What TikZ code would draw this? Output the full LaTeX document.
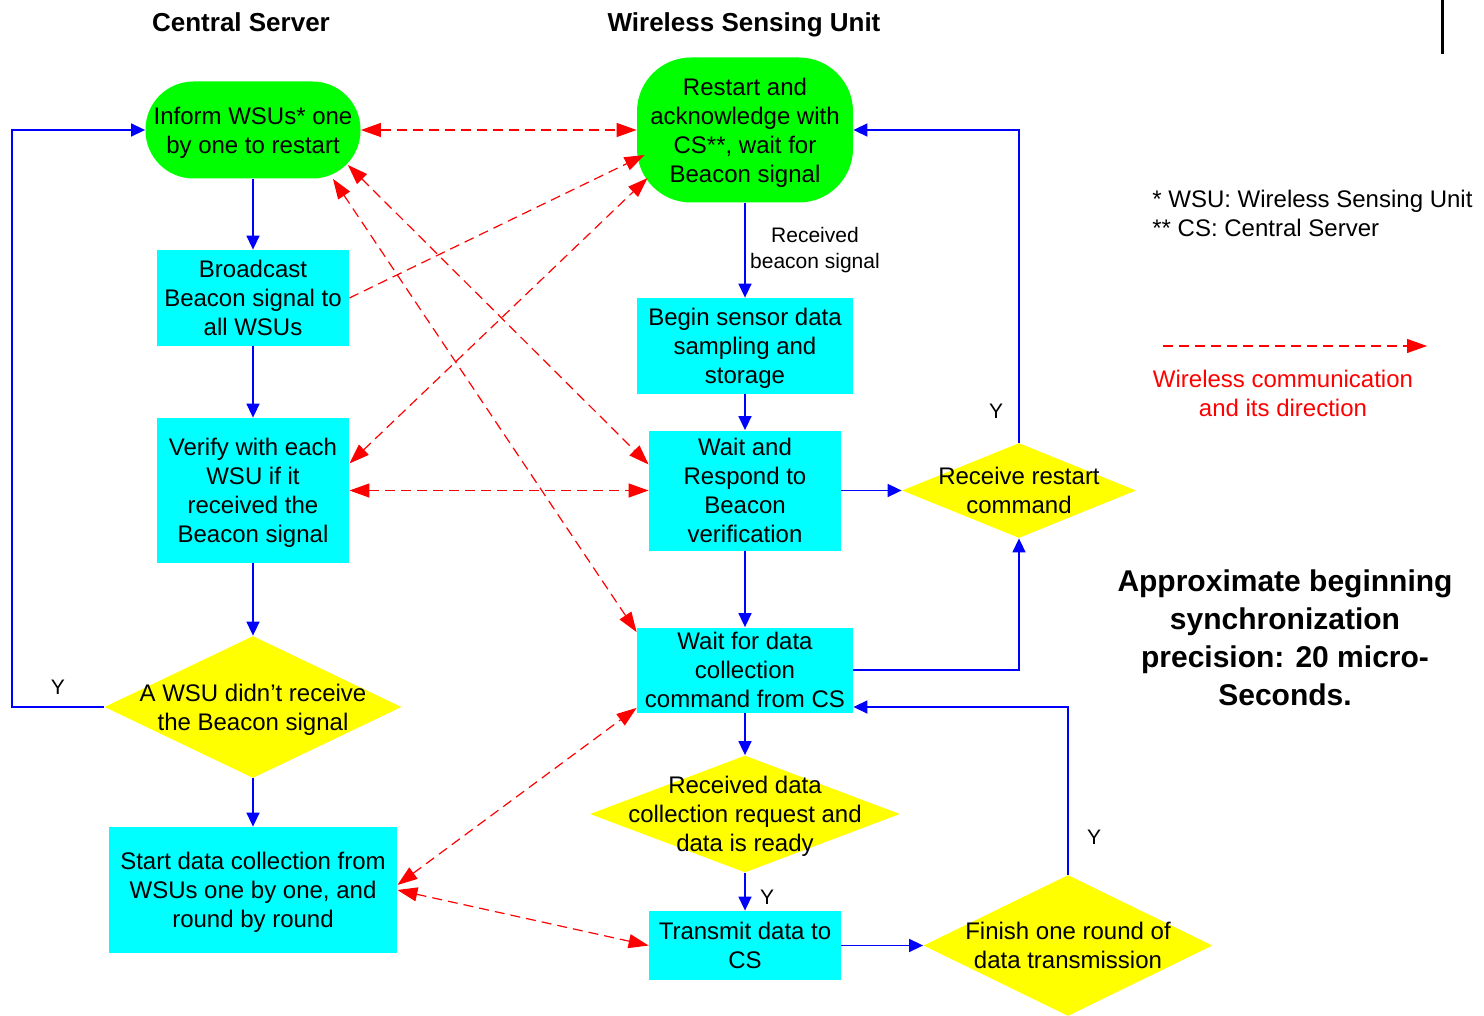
\documentclass[tikz,border=0pt]{standalone}
\usepackage{fontspec}
\setmainfont{Liberation Sans}
\usepackage{xcolor}
\usetikzlibrary{positioning}
\usetikzlibrary{shapes.geometric}
\usetikzlibrary{arrows.meta}

\definecolor{termgreen}{RGB}{0,255,0}
\definecolor{boxcyan}{RGB}{0,255,255}
\definecolor{decyellow}{RGB}{255,255,0}

\begin{document}
\begin{tikzpicture}[
  x=0.5pt, y=-0.5pt,
  font=\fontsize{12}{14.5}\selectfont,
  term/.style={fill=termgreen, rounded corners=24pt, align=center, inner sep=0pt, text depth=0pt},
  pbox/.style={fill=boxcyan, align=center, inner sep=0pt, text depth=0pt},
  decision/.style={diamond, fill=decyellow, inner sep=0pt},
  dtext/.style={align=center, inner sep=0pt, text depth=0pt},
  header/.style={font=\fontsize{13}{15}\selectfont\bfseries, text depth=0pt},
  small/.style={font=\fontsize{10.5}{13}\selectfont, align=center, inner sep=0pt},
  flowarrow/.style={-{Triangle[length=7pt, width=6.5pt]}, blue, line width=0.75pt},
  radio/.style={red, line width=0.6pt, dash pattern=on 5pt off 3pt},
  radioarrow/.style={radio, -{Triangle[length=10pt, width=7pt]}},
  radiolink/.style={radio, {Triangle[length=10pt, width=7pt]}-{Triangle[length=10pt, width=7pt]}}
]
\useasboundingbox (0,0) rectangle (1484,1016);

% Column headings
\node[header] (cshead)  at (241,22) {Central Server};
\node[header] (wsuhead) at (744,22) {Wireless Sensing Unit};

% Central server side
\node[term, minimum width=107.5pt, minimum height=48.5pt] (inform) at (253,130)
  {Inform WSUs* one\\by one to restart};
\node[pbox, minimum width=96pt, minimum height=48pt] (broadcast) at (253,298)
  {Broadcast\\Beacon signal to\\all WSUs};
\node[pbox, minimum width=96pt, minimum height=72.5pt] (verify) at (253,490.5)
  {Verify with each\\WSU if it\\received the\\Beacon signal};
\node[decision, minimum width=148.5pt, minimum height=71pt,
  label={[dtext]center:{A WSU didn't receive\\the Beacon signal}}] (missed) at (253,707) {};
\node[pbox, minimum width=144pt, minimum height=63pt] (collect) at (253,890)
  {Start data collection from\\WSUs one by one, and\\round by round};

% Wireless sensing unit side
\node[term, rounded corners=27pt, minimum width=108pt, minimum height=72.5pt] (restart) at (745,130)
  {Restart and\\acknowledge with\\CS**, wait for\\Beacon signal};
\node[pbox, minimum width=108pt, minimum height=48pt] (sampling) at (745,346)
  {Begin sensor data\\sampling and\\storage};
\node[pbox, minimum width=96pt, minimum height=60pt] (respond) at (745,490.5)
  {Wait and\\Respond to\\Beacon\\verification};
\node[decision, minimum width=117pt, minimum height=47.5pt,
  label={[dtext]center:{Receive restart\\command}}] (restartcmd) at (1019,490.5) {};
\node[pbox, minimum width=108pt, minimum height=42.5pt] (waitdata) at (745,670)
  {Wait for data\\collection\\command from CS};
\node[decision, minimum width=155pt, minimum height=58.5pt,
  label={[dtext]center:{Received data\\collection request and\\data is ready}}] (ready) at (745,814) {};
\node[pbox, minimum width=96pt, minimum height=34.5pt] (transmit) at (745,945.5)
  {Transmit data to\\CS};
\node[decision, minimum width=144.5pt, minimum height=70.5pt,
  label={[dtext]center:{Finish one round of\\data transmission}}] (roundend) at (1068,945.5) {};

% Notes
\node[align=left, inner sep=0pt, anchor=west] (abbrev) at (1152,213.5)
  {* WSU: Wireless Sensing Unit\\** CS: Central Server};
\coordinate (legstart) at (1163,346);
\coordinate (legend) at (1427,346);
\draw[radioarrow] (legstart) -- (legend);
\node[red, align=center, inner sep=0pt] (legtext) at (1283,393.5)
  {Wireless communication\\and its direction};
\node[font=\fontsize{15}{19}\selectfont\bfseries, align=center, inner sep=0pt] (precision) at (1285,638)
  {Approximate beginning\\synchronization\\precision: 20 micro-\\Seconds.};
\draw[line width=1.5pt] (1442,0) -- (1442,54);

% Server flow
\draw[flowarrow] (inform.south) -- (broadcast.north);
\draw[flowarrow] (broadcast.south) -- (verify.north);
\draw[flowarrow] (verify.south) -- (missed.north);
\draw[flowarrow] (missed.south) -- (collect.north);
\draw[flowarrow] (missed.west) -- ++(-92,0) |- (inform.west);
\node[small] (y1) at (58,687) {Y};

% Unit flow
\draw[flowarrow] (restart.south) -- (sampling.north);
\node[small] (rxlabel) at (815,250) {Received\\beacon signal};
\draw[flowarrow] (sampling.south) -- (respond.north);
\draw[flowarrow] (respond.east) -- (restartcmd.west);
\draw[flowarrow] (respond.south) -- (waitdata.north);
\draw[flowarrow] (restartcmd.north) |- (restart.east);
\node[small] (y2) at (996,411) {Y};
\draw[flowarrow] (waitdata.east) -| (restartcmd.south);
\draw[flowarrow] (waitdata.south) -- (ready.north);
\draw[flowarrow] (ready.south) -- (transmit.north);
\node[small] (y3) at (767,897) {Y};
\draw[flowarrow] (transmit.east) -- (roundend.west);
\draw[flowarrow] (roundend.north) |- ([yshift=-18.5pt]waitdata.east);
\node[small] (y4) at (1094,837) {Y};

% Wireless links
\draw[radiolink] (inform.east) -- (restart.west);
\draw[radioarrow] (broadcast.east) -- ([xshift=4pt,yshift=-12.5pt]restart.west);
\draw[radiolink] ([yshift=13.5pt]verify.east) -- ([xshift=5.5pt,yshift=-24pt]restart.west);
\draw[radiolink] ([xshift=-6.5pt,yshift=-17.5pt]inform.east) -- ([yshift=13pt]respond.west);
\draw[radiolink] ([xshift=40pt]inform.south) -- ([yshift=-2.5pt]waitdata.north west);
\draw[radiolink] (verify.east) -- (respond.west);
\draw[radiolink] ([yshift=2.5pt]collect.east) -- ([yshift=2.5pt]waitdata.south west);
\draw[radiolink] (collect.east) -- (transmit.west);

\end{tikzpicture}
\end{document}
